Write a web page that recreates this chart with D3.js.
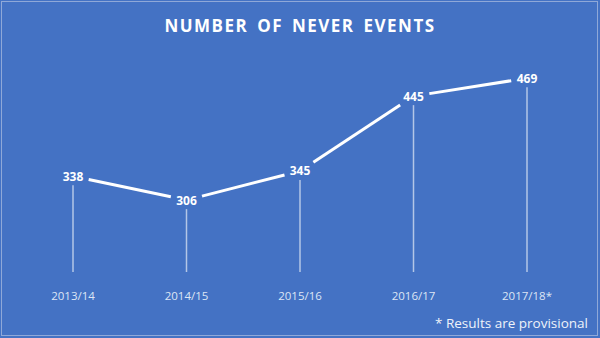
<!DOCTYPE html>
<html>
<head>
<meta charset="utf-8">
<script src="https://cdn.jsdelivr.net/npm/d3@7"></script>
<style>
  body { margin: 0; background: #fff; }
  svg { display: block; }
</style>
</head>
<body>
<svg width="600" height="338"></svg>
<script>
// chart data
var years = ["2013/14", "2014/15", "2015/16", "2016/17", "2017/18*"];
var events = [338, 306, 345, 445, 469];

var svg = d3.select('svg');

// background + thin light frame
svg.append('rect')
    .attr('x', 0).attr('y', 0)
    .attr('width', 600).attr('height', 338)
    .attr('fill', '#4472c4');
svg.append('rect')
    .attr('x', 1.5).attr('y', 1.5)
    .attr('width', 596).attr('height', 334)
    .attr('fill', 'none')
    .attr('stroke', '#8fa8d8')
    .attr('stroke-width', 1);

var scaleX = d3.scalePoint().domain(years).range([73, 527]);
var scaleY = d3.scaleLinear().domain([0, 500]).range([429, 55]);

var font = "'Open Sans', sans-serif";

svg.append('text')
    .text('NUMBER OF NEVER EVENTS')
    .attr('x', 300).attr('y', 32)
    .attr('text-anchor', 'middle')
    .attr('fill', '#fff')
    .style('font-family', font)
    .style('font-weight', 'bold')
    .style('font-size', '17px')
    .style('letter-spacing', '1.5px')
    .style('word-spacing', '3px');

var pts = years.map(function(y, i){
    return {year: y, value: events[i], x: scaleX(y), y: scaleY(events[i])};
});

// drop lines from each label down to the category axis
svg.selectAll('.drop')
    .data(pts)
    .enter()
    .append('line')
    .attr('class', 'drop')
    .attr('x1', function(d){ return d.x; })
    .attr('x2', function(d){ return d.x; })
    .attr('y1', function(d){ return d.y + 9; })
    .attr('y2', 272)
    .attr('stroke', '#ffffff')
    .attr('stroke-opacity', 0.6)
    .attr('stroke-width', 1.5);

// line segments with a gap around each label
var gap = 16;
var segs = d3.pairs(pts);
svg.selectAll('.seg')
    .data(segs)
    .enter()
    .append('line')
    .attr('class', 'seg')
    .each(function(d){
        var a = d[0], b = d[1];
        var dx = b.x - a.x, dy = b.y - a.y;
        var len = Math.sqrt(dx * dx + dy * dy);
        var ux = dx / len, uy = dy / len;
        d3.select(this)
            .attr('x1', a.x + ux * gap)
            .attr('y1', a.y + uy * gap)
            .attr('x2', b.x - ux * gap)
            .attr('y2', b.y - uy * gap);
    })
    .attr('stroke', '#fff')
    .attr('stroke-width', 3);

// value labels
svg.selectAll('.val')
    .data(pts)
    .enter()
    .append('text')
    .attr('class', 'val')
    .text(function(d){ return d.value; })
    .attr('x', function(d){ return d.x; })
    .attr('y', function(d){ return d.y + 4.5; })
    .attr('text-anchor', 'middle')
    .attr('fill', '#fff')
    .style('font-family', font)
    .style('font-weight', 'bold')
    .style('font-size', '12px');

// category labels
svg.selectAll('.cat')
    .data(years)
    .enter()
    .append('text')
    .attr('class', 'cat')
    .text(function(d){ return d; })
    .attr('x', function(d){ return scaleX(d); })
    .attr('y', 300)
    .attr('text-anchor', 'middle')
    .attr('fill', '#dde6f5')
    .style('font-family', font)
    .style('font-size', '11.5px');

svg.append('text')
    .text('* Results are provisional')
    .attr('x', 588).attr('y', 328)
    .attr('text-anchor', 'end')
    .attr('fill', '#eef2fa')
    .style('font-family', font)
    .style('font-size', '13.5px');
</script>
</body>
</html>
